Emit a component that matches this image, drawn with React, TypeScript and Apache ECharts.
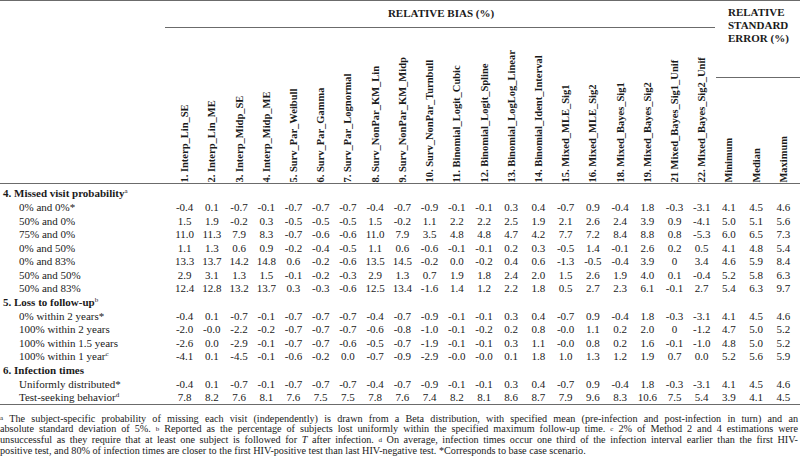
import React, { useEffect, useRef } from "react";
import * as echarts from "echarts";

const FONT = "'Liberation Serif', 'Times New Roman', serif";
const FONT_NAME = "Liberation Serif";
const INK = "#1a1a1a";
const RULE = "#6b6b6b";

const columnLabels = [
  "1. Interp_Lin_SE",
  "2. Interp_Lin_ME",
  "3. Interp_Midp_SE",
  "4. Interp_Midp_ME",
  "5. Surv_Par_Weibull",
  "6. Surv_Par_Gamma",
  "7. Surv_Par_Lognormal",
  "8. Surv_NonPar_KM_Lin",
  "9. Surv_NonPar_KM_Midp",
  "10. Surv_NonPar_Turnbull",
  "11. Binomial_Logit_Cubic",
  "12. Binomial_Logit_Spline",
  "13. Binomial_LogLog_Linear",
  "14. Binomial_Ident_Interval",
  "15. Mixed_MLE_Sig1",
  "16. Mixed_MLE_Sig2",
  "18. Mixed_Bayes_Sig1",
  "19. Mixed_Bayes_Sig2",
  "21 Mixed_Bayes_Sig1_Unif",
  "22. Mixed_Bayes_Sig2_Unif",
  "Minimum",
  "Median",
  "Maximum",
];

const rowLabels = [
  "4. Missed visit probability",
  "0% and 0%*",
  "50% and 0%",
  "75% and 0%",
  "0% and 50%",
  "0% and 83%",
  "50% and 50%",
  "50% and 83%",
  "5. Loss to follow-up",
  "0% within 2 years*",
  "100% within 2 years",
  "100% within 1.5 years",
  "100% within 1 year",
  "6. Infection times",
  "Uniformly distributed*",
  "Test-seeking behavior",
];
const rowIsSection = [true, false, false, false, false, false, false, false, true, false, false, false, false, true, false, false];
const rowSuperscripts = ["a", "", "", "", "", "", "", "", "b", "", "", "", "c", "", "", "d"];

const missed0and0 = ["-0.4", "0.1", "-0.7", "-0.1", "-0.7", "-0.7", "-0.7", "-0.4", "-0.7", "-0.9", "-0.1", "-0.1", "0.3", "0.4", "-0.7", "0.9", "-0.4", "1.8", "-0.3", "-3.1", "4.1", "4.5", "4.6"];
const missed50and0 = ["1.5", "1.9", "-0.2", "0.3", "-0.5", "-0.5", "-0.5", "1.5", "-0.2", "1.1", "2.2", "2.2", "2.5", "1.9", "2.1", "2.6", "2.4", "3.9", "0.9", "-4.1", "5.0", "5.1", "5.6"];
const missed75and0 = ["11.0", "11.3", "7.9", "8.3", "-0.7", "-0.6", "-0.6", "11.0", "7.9", "3.5", "4.8", "4.8", "4.7", "4.2", "7.7", "7.2", "8.4", "8.8", "0.8", "-5.3", "6.0", "6.5", "7.3"];
const missed0and50 = ["1.1", "1.3", "0.6", "0.9", "-0.2", "-0.4", "-0.5", "1.1", "0.6", "-0.6", "-0.1", "-0.1", "0.2", "0.3", "-0.5", "1.4", "-0.1", "2.6", "0.2", "0.5", "4.1", "4.8", "5.4"];
const missed0and83 = ["13.3", "13.7", "14.2", "14.8", "0.6", "-0.2", "-0.6", "13.5", "14.5", "-0.2", "0.0", "-0.2", "0.4", "0.6", "-1.3", "-0.5", "-0.4", "3.9", "0", "3.4", "4.6", "5.9", "8.4"];
const missed50and50 = ["2.9", "3.1", "1.3", "1.5", "-0.1", "-0.2", "-0.3", "2.9", "1.3", "0.7", "1.9", "1.8", "2.4", "2.0", "1.5", "2.6", "1.9", "4.0", "0.1", "-0.4", "5.2", "5.8", "6.3"];
const missed50and83 = ["12.4", "12.8", "13.2", "13.7", "0.3", "-0.3", "-0.6", "12.5", "13.4", "-1.6", "1.4", "1.2", "2.2", "1.8", "0.5", "2.7", "2.3", "6.1", "-0.1", "2.7", "5.4", "6.3", "9.7"];
const loss0within2 = ["-0.4", "0.1", "-0.7", "-0.1", "-0.7", "-0.7", "-0.7", "-0.4", "-0.7", "-0.9", "-0.1", "-0.1", "0.3", "0.4", "-0.7", "0.9", "-0.4", "1.8", "-0.3", "-3.1", "4.1", "4.5", "4.6"];
const loss100within2 = ["-2.0", "-0.0", "-2.2", "-0.2", "-0.7", "-0.7", "-0.7", "-0.6", "-0.8", "-1.0", "-0.1", "-0.2", "0.2", "0.8", "-0.0", "1.1", "0.2", "2.0", "0", "-1.2", "4.7", "5.0", "5.2"];
const loss100within15 = ["-2.6", "0.0", "-2.9", "-0.1", "-0.7", "-0.7", "-0.6", "-0.5", "-0.7", "-1.9", "-0.1", "-0.1", "0.3", "1.1", "-0.0", "0.8", "0.2", "1.6", "-0.1", "-1.0", "4.8", "5.0", "5.2"];
const loss100within1 = ["-4.1", "0.1", "-4.5", "-0.1", "-0.6", "-0.2", "0.0", "-0.7", "-0.9", "-2.9", "-0.0", "-0.0", "0.1", "1.8", "1.0", "1.3", "1.2", "1.9", "0.7", "0.0", "5.2", "5.6", "5.9"];
const infectUniform = ["-0.4", "0.1", "-0.7", "-0.1", "-0.7", "-0.7", "-0.7", "-0.4", "-0.7", "-0.9", "-0.1", "-0.1", "0.3", "0.4", "-0.7", "0.9", "-0.4", "1.8", "-0.3", "-3.1", "4.1", "4.5", "4.6"];
const infectTestSeeking = ["7.8", "8.2", "7.6", "8.1", "7.6", "7.5", "7.5", "7.8", "7.6", "7.4", "8.2", "8.1", "8.6", "8.7", "7.9", "9.6", "8.3", "10.6", "7.5", "5.4", "3.9", "4.1", "4.5"];

const rowValues: (string[] | null)[] = [
  null,
  missed0and0,
  missed50and0,
  missed75and0,
  missed0and50,
  missed0and83,
  missed50and50,
  missed50and83,
  null,
  loss0within2,
  loss100within2,
  loss100within15,
  loss100within1,
  null,
  infectUniform,
  infectTestSeeking,
];

const footnoteLines = [
  "{sup|a} The subject-specific probability of missing each visit (independently) is drawn from a Beta distribution, with specified mean (pre-infection and post-infection in turn) and an",
  "absolute standard deviation of 5%. {sup|b} Reported as the percentage of subjects lost uniformly within the specified maximum follow-up time. {sup|c} 2% of Method 2 and 4 estimations were",
  "unsuccessful as they require that at least one subject is followed for {it|T} after infection. {sup|d} On average, infection times occur one third of the infection interval earlier than the first HIV-",
  "positive test, and 80% of infection times are closer to the first HIV-positive test than last HIV-negative test. *Corresponds to base case scenario.",
];
const footnoteJustified = [true, true, true, false];

const FOOT_SIZE = 10.2;
const SUP_SIZE = 7;

function measureWord(ctx: CanvasRenderingContext2D, word: string): number {
  let w = 0;
  const re = /\{(sup|it)\|([^}]*)\}|([^{]+)/g;
  let m: RegExpExecArray | null;
  while ((m = re.exec(word))) {
    if (m[1] === "sup") {
      ctx.font = `${SUP_SIZE}px '${FONT_NAME}'`;
      w += ctx.measureText(m[2]).width;
    } else if (m[1] === "it") {
      ctx.font = `italic ${FOOT_SIZE}px '${FONT_NAME}'`;
      w += ctx.measureText(m[2]).width;
    } else {
      ctx.font = `${FOOT_SIZE}px '${FONT_NAME}'`;
      w += ctx.measureText(m[3]).width;
    }
  }
  return w;
}

export default function App() {
  const ref = useRef<HTMLDivElement>(null);

  useEffect(() => {
    if (!ref.current) return;
    const chart = echarts.init(ref.current, null, { renderer: "svg" });

    const cells: { col: number; row: number; text: string }[] = [];
    rowValues.forEach((vals, r) => {
      if (!vals) return;
      vals.forEach((t, c) => cells.push({ col: c, row: r, text: t }));
    });

    const gridLeft = 168;
    const gridTop = 186.6;
    const gridHeight = 217.3;

    const footRich = {
      sup: { fontSize: SUP_SIZE, verticalAlign: "top", fontFamily: FONT, color: INK },
      it: { fontStyle: "italic", fontSize: FOOT_SIZE, fontFamily: FONT, color: INK },
    };

    const canvas = document.createElement("canvas");
    const ctx = canvas.getContext("2d") as CanvasRenderingContext2D;
    const rightEdge = 798;
    const footTexts: any[] = [];
    footnoteLines.forEach((line, i) => {
      const y = 418 + i * 10.8;
      const words = line.split(" ");
      const widths = words.map((w) => measureWord(ctx, w));
      ctx.font = `${FOOT_SIZE}px '${FONT_NAME}'`;
      const spaceW = ctx.measureText(" ").width;
      const total = widths.reduce((a, b) => a + b, 0);
      const gap = footnoteJustified[i] ? (rightEdge - total) / (words.length - 1) : spaceW;
      let x = 0;
      words.forEach((w, k) => {
        footTexts.push({
          type: "text",
          x,
          y,
          style: { text: w, rich: footRich, fontFamily: FONT, fontSize: FOOT_SIZE, fill: INK, align: "left", verticalAlign: "middle" },
        });
        x += widths[k] + gap;
      });
    });

    const graphic: any[] = [
      { type: "line", shape: { x1: 0, y1: 0.5, x2: 800, y2: 0.5 }, style: { stroke: RULE, lineWidth: 1 } },
      {
        type: "text", x: 441, y: 13,
        style: { text: "RELATIVE BIAS (%)", fontFamily: FONT, fontSize: 11, fontWeight: "bold", fill: INK, align: "center", verticalAlign: "middle" },
      },
      { type: "line", shape: { x1: 165, y1: 27.5, x2: 715, y2: 27.5 }, style: { stroke: RULE, lineWidth: 1 } },
      {
        type: "text", x: 728, y: 25,
        style: { text: "RELATIVE\nSTANDARD\nERROR (%)", fontFamily: FONT, fontSize: 11, fontWeight: "bold", fill: INK, align: "left", verticalAlign: "middle", lineHeight: 13.3 },
      },
      { type: "line", shape: { x1: 716, y1: 77.5, x2: 800, y2: 77.5 }, style: { stroke: RULE, lineWidth: 1 } },
      { type: "line", shape: { x1: 0, y1: 183.5, x2: 800, y2: 183.5 }, style: { stroke: RULE, lineWidth: 1 } },
      { type: "line", shape: { x1: 0, y1: 404.5, x2: 800, y2: 404.5 }, style: { stroke: RULE, lineWidth: 1 } },
      ...footTexts,
    ];

    chart.setOption({
      animation: false,
      backgroundColor: "#ffffff",
      grid: { left: gridLeft, right: 3, top: gridTop, height: gridHeight, containLabel: false },
      xAxis: {
        type: "category",
        position: "top",
        data: columnLabels,
        axisLine: { show: false },
        axisTick: { show: false },
        splitLine: { show: false },
        axisLabel: {
          interval: 0,
          rotate: -90,
          margin: 4,
          fontFamily: FONT,
          fontSize: 10.5,
          fontWeight: "bold",
          color: INK,
        },
      },
      yAxis: {
        type: "category",
        inverse: true,
        data: rowLabels,
        axisLine: { show: false },
        axisTick: { show: false },
        splitLine: { show: false },
        axisLabel: {
          interval: 0,
          align: "left",
          margin: gridLeft,
          fontFamily: FONT,
          fontSize: 11,
          color: INK,
          formatter: (value: string, idx: number) => {
            const sup = rowSuperscripts[idx] ? `{sup|${rowSuperscripts[idx]}}` : "";
            return rowIsSection[idx] ? `{sec|${value}}${sup}` : `{sub|${value}}${sup}`;
          },
          rich: {
            sec: { fontFamily: FONT, fontSize: 11, fontWeight: "bold", color: INK },
            sub: { fontFamily: FONT, fontSize: 11, color: INK, padding: [0, 0, 0, 16] },
            sup: { fontFamily: FONT, fontSize: 7, color: INK, verticalAlign: "top" },
          },
        },
      },
      series: [
        {
          type: "custom",
          coordinateSystem: "cartesian2d",
          data: cells.map((c) => [c.col, c.row]),
          renderItem: (params: any, api: any) => {
            const p = api.coord([api.value(0), api.value(1)]);
            return {
              type: "text",
              x: p[0],
              y: p[1],
              style: {
                text: cells[params.dataIndex].text,
                fontFamily: FONT,
                fontSize: 11,
                fill: INK,
                align: "center",
                verticalAlign: "middle",
              },
            };
          },
        },
      ],
      graphic,
    });

    return () => chart.dispose();
  }, []);

  return (
    <div
      ref={ref}
      style={{ position: "fixed", left: 0, top: 0, width: 800, height: 465, background: "#fff" }}
    />
  );
}
